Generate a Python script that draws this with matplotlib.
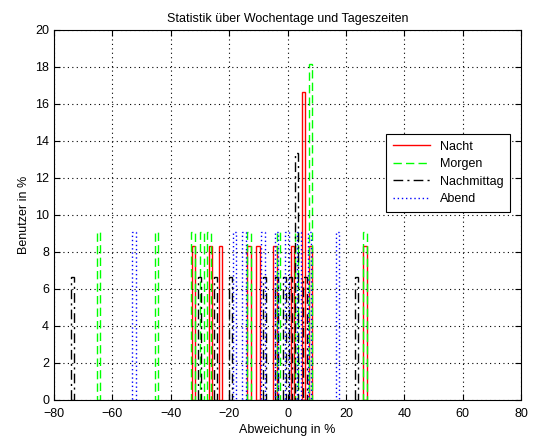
import matplotlib
matplotlib.use('Agg')
import matplotlib.pyplot as plt
from matplotlib.lines import Line2D

plt.rcParams['font.family'] = ['Liberation Sans', 'DejaVu Sans']

# Abweichung (Bin-Mitten) und Anteil der Benutzer in %
nacht_x = [-32.2, -26.4, -23.1, -13.2, -10.1, -4.3, 1.7, 5.5, 7.9, 26.5]
nacht_y = [8.33, 8.33, 8.33, 8.33, 8.33, 8.33, 8.33, 16.67, 8.33, 8.33]

morgen_x = [-64.9, -45.0, -32.4, -29.3, -26.9, -13.2, -3.1, 3.1, 7.9, 26.5]
morgen_y = [9.09, 9.09, 9.09, 9.09, 9.09, 9.09, 9.09, 9.09, 18.18, 9.09]

nachmittag_x = [-73.8, -30.1, -24.8, -19.5, -8.0, -3.9, -1.0, 0.9, 3.1, 6.0, 23.5]
nachmittag_y = [6.67, 6.67, 6.67, 6.67, 6.67, 6.67, 6.67, 6.67, 13.33, 6.67, 6.67]

abend_x = [-52.6, -18.3, -14.9, -8.4, -3.9, -0.2, 3.9, 7.4, 17.0]
abend_y = [9.09, 9.09, 9.09, 9.09, 9.09, 9.09, 9.09, 9.09, 9.09]

series = [
    ('Nacht', nacht_x, nacht_y, 'red', '-'),
    ('Morgen', morgen_x, morgen_y, '#00ff00', (0, (6, 3))),
    ('Nachmittag', nachmittag_x, nachmittag_y, 'black', (0, (7, 3, 1.5, 3))),
    ('Abend', abend_x, abend_y, 'blue', (0, (1, 2))),
]

fig = plt.figure(figsize=(5.35, 4.41), dpi=100)
ax = fig.add_axes([0.101, 0.093, 0.873, 0.839])

handles = []
for name, xs, ys, col, ls in series:
    ax.bar(xs, ys, width=1.1, fill=False, edgecolor=col, linestyle=ls, linewidth=1.0)
    handles.append(Line2D([0], [0], color=col, linestyle=ls, linewidth=1.0, label=name))

ax.set_xlim(-80, 80)
ax.set_ylim(0, 20)
ax.set_xticks(range(-80, 81, 20))
ax.set_yticks(range(0, 21, 2))
ax.grid(True, color='black', linestyle=(0, (1, 3)), linewidth=0.8)
ax.tick_params(direction='in', top=True, right=True, labelsize=9, length=4)
ax.tick_params(axis='x', pad=6)
for sp in ax.spines.values():
    sp.set_linewidth(0.8)

ax.set_title('Statistik über Wochentage und Tageszeiten', fontsize=9)
ax.set_xlabel('Abweichung in %', fontsize=9, labelpad=3)
ax.set_ylabel('Benutzer in %', fontsize=9)

leg = ax.legend(handles=handles, loc='upper left', bbox_to_anchor=(0.698, 0.735),
                fontsize=9, fancybox=False, framealpha=1, edgecolor='black',
                handlelength=3.0, borderpad=0.5, labelspacing=0.45)
leg.get_frame().set_linewidth(0.8)

fig.savefig('out.png', dpi=100)
